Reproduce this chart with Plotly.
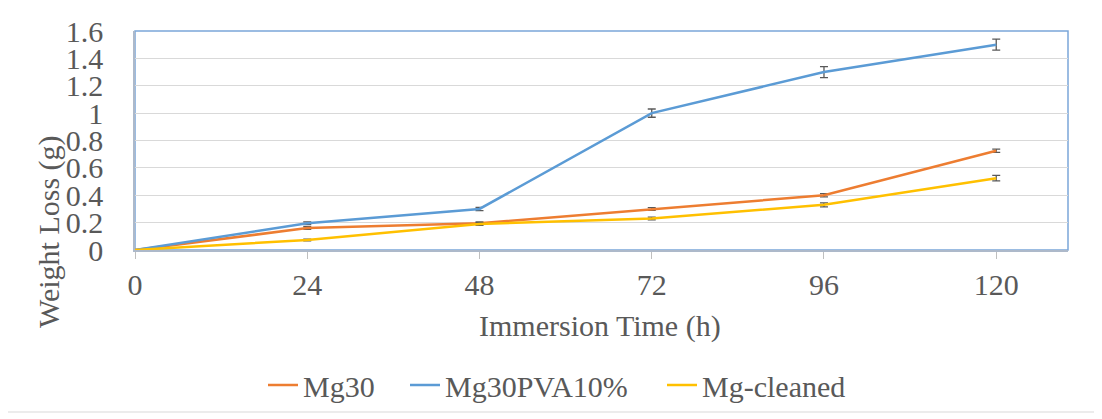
import plotly.graph_objects as go

hours = [0, 24, 48, 72, 96, 120]
mg30 = [0, 0.16, 0.195, 0.30, 0.40, 0.725]
mg30_err = [0, 0.01, 0.01, 0.01, 0.012, 0.012]
mg30pva = [0, 0.195, 0.30, 1.0, 1.30, 1.50]
mg30pva_err = [0, 0.01, 0.012, 0.03, 0.04, 0.04]
mgclean = [0, 0.073, 0.19, 0.23, 0.33, 0.525]
mgclean_err = [0, 0.006, 0.01, 0.01, 0.015, 0.02]

names = ["Mg30", "Mg30PVA10%", "Mg-cleaned"]
colors = ["#ED7D31", "#5B9BD5", "#FFC000"]
series = [(mg30, mg30_err), (mg30pva, mg30pva_err), (mgclean, mgclean_err)]
legend_ids = ["legend", "legend2", "legend3"]

font_family = "Liberation Serif"
txt = "#595959"
FS = 30

fig = go.Figure()
for name, color, (vals, errs), lid in zip(names, colors, series, legend_ids):
    fig.add_trace(go.Scatter(
        x=hours, y=vals, name=name, mode="lines", legend=lid,
        line=dict(color=color, width=2.5),
        error_y=dict(type="data", array=errs, visible=True,
                     color="#595959", thickness=1.3, width=4),
    ))

# page has an 8px body margin; figure is drawn at (8, 8)
OFF = 8
W, H = 1102 - OFF, 419 - OFF
PL, PR, PT, PB = 135, 1068, 31, 250  # plot box in page pixels
L = PL - OFF
T = PT - OFF
R = 1102 - PR
B = 419 - PB
pw = PR - PL
ph = PB - PT

def px_x(p):
    return (p - PL) / pw

def px_y(p):
    return (PB - p) / ph

def leg(xpix):
    return dict(orientation="h", x=px_x(xpix), xanchor="left",
                y=px_y(385), yanchor="middle",
                font=dict(family=font_family, size=FS, color=txt),
                bgcolor="rgba(0,0,0,0)")

fig.update_layout(
    width=W, height=H,
    margin=dict(l=L, r=R, t=T, b=B, autoexpand=False),
    paper_bgcolor="white", plot_bgcolor="white",
    font=dict(family=font_family, size=FS, color=txt),
    showlegend=True,
    legend=leg(267 - 4),
    legend2=leg(410 - 5),
    legend3=leg(668 - 6),
    xaxis=dict(range=[0, 130], tickvals=hours, ticktext=[str(h) for h in hours],
               showgrid=False, zeroline=False,
               showline=True, linecolor="#ADB9CA", linewidth=1.5,
               ticks="outside", ticklen=7, tickcolor="#BFBFBF",
               ticklabelstandoff=0,
               tickfont=dict(family=font_family, size=FS, color=txt)),
    yaxis=dict(range=[0, 1.6], tickvals=[0, 0.2, 0.4, 0.6, 0.8, 1, 1.2, 1.4, 1.6],
               ticktext=["0", "0.2", "0.4", "0.6", "0.8", "1", "1.2", "1.4", "1.6"],
               showgrid=True, gridcolor="#D9D9D9", gridwidth=1.3,
               zeroline=False, showline=True, linecolor="#ADB9CA", linewidth=1.5,
               ticks="outside", ticklen=24, tickcolor="rgba(0,0,0,0)",
               tickfont=dict(family=font_family, size=FS, color=txt)),
    annotations=[
        dict(text="Immersion Time (h)", xref="paper", yref="paper",
             x=px_x(600), y=px_y(326), xanchor="center", yanchor="middle",
             showarrow=False, font=dict(family=font_family, size=FS, color=txt)),
        dict(text="Weight Loss (g)", xref="paper", yref="paper",
             x=px_x(49), y=px_y(232), xanchor="center", yanchor="middle",
             textangle=-90, showarrow=False, font=dict(family=font_family, size=FS, color=txt)),
    ],
    shapes=[
        dict(type="rect", xref="paper", yref="paper", x0=0, x1=1, y0=0, y1=1,
             line=dict(color="#7BA7D9", width=1.5), fillcolor="rgba(0,0,0,0)", layer="below"),
        dict(type="rect", xref="paper", yref="paper",
             x0=px_x(7), x1=px_x(1095), y0=px_y(412), y1=px_y(5),
             line=dict(color="#D9D9D9", width=1), fillcolor="rgba(0,0,0,0)", layer="below"),
    ],
)

fig.write_html("out.html")
